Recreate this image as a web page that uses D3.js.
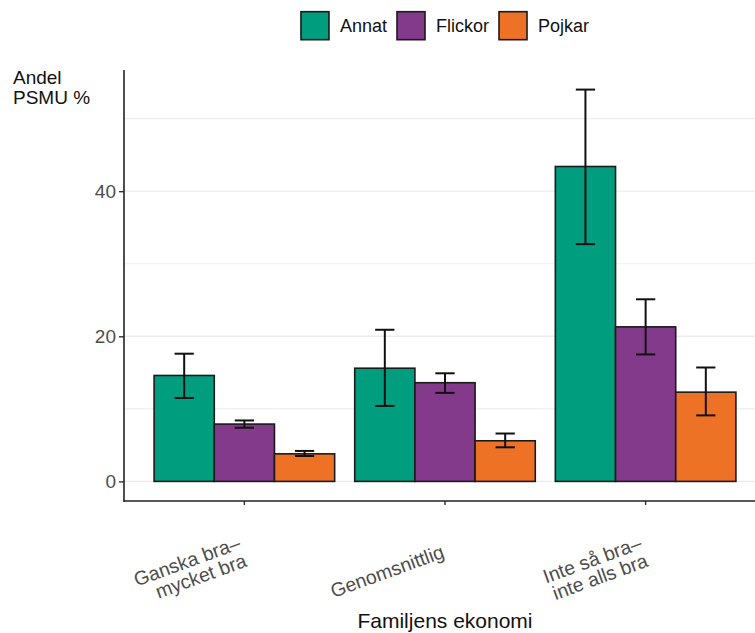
<!DOCTYPE html>
<html>
<head>
<meta charset="utf-8">
<script src="https://cdn.jsdelivr.net/npm/d3@7"></script>
<style>
  html, body { margin: 0; padding: 0; background: #fff; overflow: hidden; }
  svg { display: block; font-family: "Liberation Sans", Arial, Helvetica, sans-serif; }
</style>
</head>
<body>
<svg id="chart" width="755" height="633"></svg>
<script>
// ---- data ----
const categories = ["Ganska bra–\nmycket bra", "Genomsnittlig", "Inte så bra–\ninte alls bra"];
const series = ["Annat", "Flickor", "Pojkar"];
const annat = [14.6, 15.6, 43.4];
const flickor = [7.9, 13.6, 21.3];
const pojkar = [3.8, 5.6, 12.3];
const annatLow = [11.5, 10.4, 32.7];
const annatHigh = [17.6, 20.9, 54.0];
const flickorLow = [7.4, 12.2, 17.5];
const flickorHigh = [8.4, 14.9, 25.1];
const pojkarLow = [3.5, 4.7, 9.1];
const pojkarHigh = [4.2, 6.6, 15.7];
const yTicks = [0, 20, 40];
const yMinorTicks = [10, 30, 50];
const yTitle = ["Andel", "PSMU %"];
const xTitle = "Familjens ekonomi";

const palette = ["#009E7E", "#843A8B", "#EE7226"];

// ---- layout ----
const svg = d3.select("#chart");
const pLeft = 124, pRight = 766, pTop = 70, pBottom = 501;

const values = [annat, flickor, pojkar];
const lows = [annatLow, flickorLow, pojkarLow];
const highs = [annatHigh, flickorHigh, pojkarHigh];

const rows = [];
categories.forEach((c, i) => {
  series.forEach((s, j) => {
    rows.push({cat: c, ser: s, v: values[j][i], lo: lows[j][i], hi: highs[j][i]});
  });
});

const dataMax = d3.max(rows, d => d.hi);
const ex = dataMax * 0.05;
const y = d3.scaleLinear().domain([-ex, dataMax + ex]).range([pBottom, pTop]);

const x0 = d3.scaleBand().domain(categories).range([pLeft, pRight]).paddingInner(0).paddingOuter(0.1);
const step = x0.step();
const x1 = d3.scaleBand().domain(series).range([0, step * 0.9]);
const color = d3.scaleOrdinal().domain(series).range(palette);
const groupStart = c => x0(c) + step * 0.05;
const center = c => x0(c) + step / 2;

// gridlines
const gridG = svg.append("g");
gridG.selectAll("line.minor").data(yMinorTicks).join("line")
  .attr("x1", pLeft).attr("x2", pRight)
  .attr("y1", d => y(d)).attr("y2", d => y(d))
  .attr("stroke", "#EEEEEE").attr("stroke-width", 1.2);
gridG.selectAll("line.major").data(yTicks).join("line")
  .attr("x1", pLeft).attr("x2", pRight)
  .attr("y1", d => y(d)).attr("y2", d => y(d))
  .attr("stroke", "#EBEBEB").attr("stroke-width", 1.4);

// bars
svg.append("g").selectAll("rect").data(rows).join("rect")
  .attr("x", d => groupStart(d.cat) + x1(d.ser))
  .attr("width", x1.bandwidth())
  .attr("y", d => y(d.v))
  .attr("height", d => y(0) - y(d.v))
  .attr("fill", d => color(d.ser))
  .attr("stroke", "#1a1a1a").attr("stroke-width", 1.6);

// error bars
const capW = x1.bandwidth() * 0.32;
const eg = svg.append("g").attr("stroke", "#111").attr("stroke-width", 2).attr("fill", "none");
rows.forEach(d => {
  const cx = groupStart(d.cat) + x1(d.ser) + x1.bandwidth() / 2;
  eg.append("line").attr("x1", cx).attr("x2", cx).attr("y1", y(d.hi)).attr("y2", y(d.lo));
  eg.append("line").attr("x1", cx - capW / 2).attr("x2", cx + capW / 2).attr("y1", y(d.hi)).attr("y2", y(d.hi));
  eg.append("line").attr("x1", cx - capW / 2).attr("x2", cx + capW / 2).attr("y1", y(d.lo)).attr("y2", y(d.lo));
});

// y axis
const yAxis = d3.axisLeft(y).tickValues(yTicks).tickSize(5).tickPadding(3).tickFormat(d3.format("d"));
const yg = svg.append("g").attr("transform", `translate(${pLeft},0)`).call(yAxis);
yg.select(".domain").remove();
yg.selectAll(".tick line").attr("stroke", "#333").attr("stroke-width", 1.4);
yg.selectAll(".tick text").attr("fill", "#4D4D4D").style("font-size", "19px")
  .style("font-family", "'Liberation Sans', Arial, sans-serif");
svg.append("line").attr("x1", pLeft).attr("x2", pLeft).attr("y1", pTop).attr("y2", pBottom + 0.7)
  .attr("stroke", "#222").attr("stroke-width", 1.6);

// x axis
const xAxis = d3.axisBottom(x0).tickSize(4).tickFormat("");
const xg = svg.append("g").attr("transform", `translate(0,${pBottom})`).call(xAxis);
xg.select(".domain").remove();
xg.selectAll(".tick line").attr("stroke", "#333").attr("stroke-width", 1.4);
svg.append("line").attr("x1", pLeft - 0.7).attr("x2", pRight).attr("y1", pBottom).attr("y2", pBottom)
  .attr("stroke", "#222").attr("stroke-width", 1.6);

// x tick labels rotated
const lh = 18.8;
categories.forEach(c => {
  const lines = c.split("\n");
  const t = svg.append("text")
    .attr("transform", `translate(${center(c)},556) rotate(-20)`)
    .attr("text-anchor", "end")
    .attr("fill", "#4D4D4D")
    .style("font-size", "19.5px");
  lines.forEach((ln, i) => {
    t.append("tspan").attr("x", 0).attr("y", (i - (lines.length - 1) / 2) * lh + 1.3).text(ln);
  });
});

// axis titles
svg.append("text").attr("x", (pLeft + pRight) / 2).attr("y", 628).attr("text-anchor", "middle")
  .attr("fill", "#111").style("font-size", "21px").text(xTitle);
const yt = svg.append("text").attr("fill", "#111").style("font-size", "19px");
yTitle.forEach((t, i) => yt.append("tspan").attr("x", 13).attr("y", 84 + i * 20).text(t));

// legend
const legend = svg.append("g");
const keySize = 28, gapKT = 11, gapItems = 10;
let lx = 0;
series.forEach((s, j) => {
  const g = legend.append("g");
  g.append("rect").attr("x", 0).attr("y", 11.7).attr("width", keySize).attr("height", keySize)
    .attr("fill", color(s)).attr("stroke", "#1a1a1a").attr("stroke-width", 1.6);
  const tx = g.append("text").attr("x", keySize + gapKT).attr("y", 31.7)
    .attr("fill", "#111").style("font-size", "18px").text(s);
  const w = keySize + gapKT + tx.node().getComputedTextLength();
  g.attr("transform", `translate(${lx},0)`);
  lx += w + gapItems;
});
const totalW = lx - gapItems;
legend.attr("transform", `translate(${(pLeft + pRight) / 2 - totalW / 2},0)`);
</script>
</body>
</html>
